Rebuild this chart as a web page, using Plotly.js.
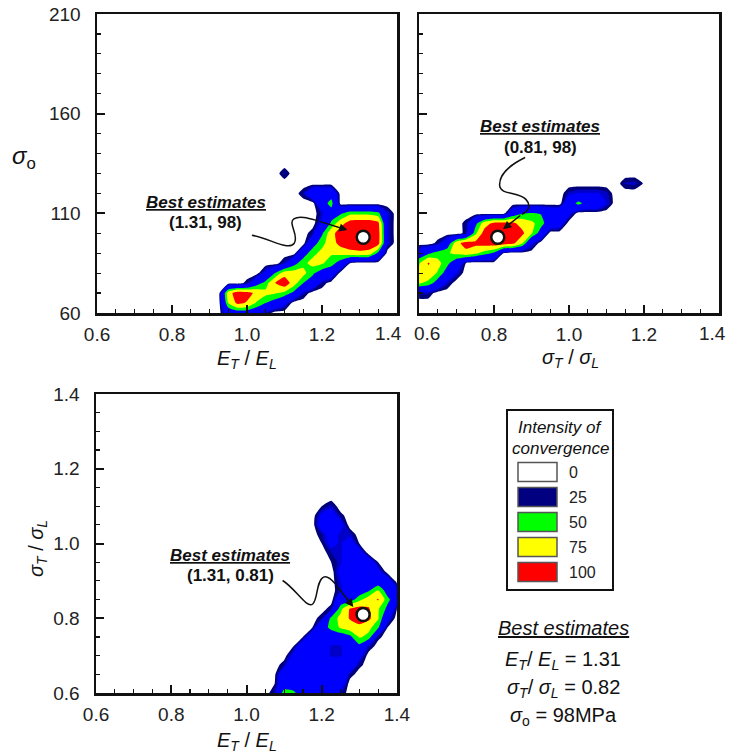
<!DOCTYPE html>
<html>
<head>
<meta charset="utf-8">
<script src="https://cdn.plot.ly/plotly-3.0.1.min.js"></script>
<style>body{margin:0;background:#fff}</style>
</head>
<body>
<div id="chart" style="width:730px;height:754px"></div>
<script>
// ---------- DATA ----------
// Panel 1: sigma_o vs E_T/E_L
const p1x = [0.925,0.95,0.975,1.0,1.025,1.05,1.075,1.1,1.125,1.15,1.175,1.2,1.225,1.25,1.275,1.3,1.325,1.35,1.375,1.4];
const p1y = [60,65,70,75,80,85,90,95,100,105,110,115,120,125,130,135];
const p1z = [
 [0,28,32,32,28,12,0,0,0,0,0,0,0,0,0,0,0,0,0,0],
 [0,60,85,78,58,45,35,20,0,0,0,0,0,0,0,0,0,0,0,0],
 [0,70,92,88,75,65,62,55,40,12,0,0,0,0,0,0,0,0,0,0],
 [0,0,0,8,35,52,80,95,68,45,35,10,0,0,0,0,0,0,0,0],
 [0,0,0,0,0,20,45,70,68,66,48,35,30,0,0,0,0,0,0,0],
 [0,0,0,0,0,0,0,12,38,55,66,62,52,35,5,0,0,0,0,0],
 [0,0,0,0,0,0,0,0,0,35,55,65,62,66,72,75,72,40,0,0],
 [0,0,0,0,0,0,0,0,0,0,35,55,70,88,95,95,95,88,14,0],
 [0,0,0,0,0,0,0,0,0,0,10,42,72,92,98,98,98,90,14,0],
 [0,0,0,0,0,0,0,0,0,0,0,20,48,72,90,92,92,85,14,0],
 [0,0,0,0,0,0,0,0,0,0,0,12,35,42,55,55,55,50,14,0],
 [0,0,0,0,0,0,0,0,0,0,0,35,52,0,0,0,0,0,0,0],
 [0,0,0,0,0,0,0,0,0,10,35,35,35,0,0,0,0,0,0,0],
 [0,0,0,0,0,0,0,0,0,0,0,0,0,0,0,0,0,0,0,0],
 [0,0,0,0,0,0,0,11,0,0,0,0,0,0,0,0,0,0,0,0],
 [0,0,0,0,0,0,0,0,0,0,0,0,0,0,0,0,0,0,0,0]
];
// Panel 2: sigma_o vs sigma_T/sigma_L
const p2x = [0.6,0.625,0.65,0.675,0.7,0.725,0.75,0.775,0.8,0.825,0.85,0.875,0.9,0.925,0.95,0.975,1.0,1.025,1.05,1.075,1.1,1.125,1.15,1.175,1.2];
const p2y = [65,70,75,80,85,90,95,100,105,110,115,120,125,130];
const p2z = [
 [0,0,0,0,0,0,0,0,0,0,0,0,0,0,0,0,0,0,0,0,0,0,0,0,0],
 [12,11,0,0,0,0,0,0,0,0,0,0,0,0,0,0,0,0,0,0,0,0,0,0,0],
 [62,55,35,12,0,0,0,0,0,0,0,0,0,0,0,0,0,0,0,0,0,0,0,0,0],
 [65,72,58,35,15,0,0,0,0,0,0,0,0,0,0,0,0,0,0,0,0,0,0,0,0],
 [58,82,66,50,30,5,0,0,0,0,0,0,0,0,0,0,0,0,0,0,0,0,0,0,0],
 [30,42,52,58,64,72,64,52,42,5,0,0,0,0,0,0,0,0,0,0,0,0,0,0,0],
 [0,0,8,30,72,90,86,90,92,90,85,62,18,0,0,0,0,0,0,0,0,0,0,0,0],
 [0,0,0,0,0,8,55,90,96,96,94,85,62,35,0,0,0,0,0,0,0,0,0,0,0],
 [0,0,0,0,0,8,38,70,85,86,84,72,64,52,32,25,0,0,0,0,0,0,0,0,0],
 [0,0,0,0,0,0,0,0,0,0,30,44,46,44,35,35,20,0,0,0,0,0,0,0,0],
 [0,0,0,0,0,0,0,0,0,0,0,0,0,0,0,0,30,52,35,35,15,0,0,0,0],
 [0,0,0,0,0,0,0,0,0,0,0,0,0,0,0,0,12,16,16,16,12,0,0,0,0],
 [0,0,0,0,0,0,0,0,0,0,0,0,0,0,0,0,0,0,0,0,0,0,11,12,4],
 [0,0,0,0,0,0,0,0,0,0,0,0,0,0,0,0,0,0,0,0,0,0,0,0,0]
];
// Panel 3: sigma_T/sigma_L vs E_T/E_L
const p3x = [1.05,1.075,1.1,1.125,1.15,1.175,1.2,1.225,1.25,1.275,1.3,1.325,1.35,1.375,1.4];
const p3y = [0.6,0.625,0.65,0.675,0.7,0.725,0.75,0.775,0.8,0.825,0.85,0.875,0.9,0.925,0.95,0.975,1.0,1.025,1.05,1.075,1.1,1.125];
const p3z = [
 [0,12,55,50,30,30,30,30,12,0,0,0,0,0,0],
 [0,5,30,30,30,30,30,30,28,0,0,0,0,0,0],
 [0,3,30,32,32,32,32,32,30,10,0,0,0,0,0],
 [0,0,10,32,32,32,32,30,32,30,8,0,0,0,0],
 [0,0,0,20,32,32,30,13,13,30,22,0,0,0,0],
 [0,0,0,5,30,32,32,13,13,30,40,12,0,0,0],
 [0,0,0,0,5,30,32,30,32,40,62,55,8,0,0],
 [0,0,0,0,0,5,35,50,62,70,72,65,48,5,0],
 [0,0,0,0,0,0,10,50,65,82,95,85,62,20,0],
 [0,0,0,0,0,0,0,10,55,82,88,82,62,40,5],
 [0,0,0,0,0,0,0,0,30,35,55,70,82,50,30],
 [0,0,0,0,0,0,0,0,12,30,32,42,60,35,20],
 [0,0,0,0,0,0,0,0,15,30,32,32,30,25,0],
 [0,0,0,0,0,0,0,0,20,30,30,30,20,0,0],
 [0,0,0,0,0,0,0,5,13,30,30,30,5,0,0],
 [0,0,0,0,0,0,0,10,13,30,25,0,0,0,0],
 [0,0,0,0,0,0,5,20,13,25,5,0,0,0,0],
 [0,0,0,0,0,0,10,22,13,12,0,0,0,0,0],
 [0,0,0,0,0,0,25,28,22,0,0,0,0,0,0],
 [0,0,0,0,0,0,18,25,8,0,0,0,0,0,0],
 [0,0,0,0,0,0,5,12,0,0,0,0,0,0,0],
 [0,0,0,0,0,0,0,0,0,0,0,0,0,0,0]
];
// Tick labels
const xTickVals = [0.6,0.8,1.0,1.2,1.4];
const xTickText = ['0.6','0.8','1.0','1.2','1.4'];
// Best estimates (marker positions / labels)
const best1 = [1.31, 98];
const best2 = [0.81, 98];
const best3 = [1.31, 0.81];
const best1Label = '(1.31, 98)';
const best2Label = '(0.81, 98)';
const best3Label = '(1.31, 0.81)';
// Legend
const legendLabels = ['0','25','50','75','100'];
const legendColors = ['#ffffff','#000080','#00ff00','#ffff00','#ff0000'];
const summaryLines = [
  '<i>E</i><sub><i>T</i></sub>/ <i>E</i><sub><i>L</i></sub> = 1.31',
  '<i>σ</i><sub><i>T</i></sub>/ <i>σ</i><sub><i>L</i></sub> = 0.82',
  '<i>σ</i><sub>o</sub> = 98MPa'
];
// Contour band colours (value thresholds)
const bandEdges = [5,10,15,45,60,80];
const bandColors = ['#ffffff','#00007a','#0000c8','#0000ff','#00ff00','#ffff00','#ff0000'];

// ---------- BUILD ----------
const W = 730, H = 754;
const FONT = 'Liberation Sans, Arial, sans-serif';
const fx = p => p / W;
const fy = p => 1 - p / H;

function colorAt(v){ let i = 0; while (i < bandEdges.length && v >= bandEdges[i]) i++; return bandColors[i]; }
const cStart = 5, cEnd = 95, cSize = 5;
const nLev = Math.round((cEnd - cStart) / cSize) + 1;
const cscale = [];
for (let k = 0; k <= nLev; k++) cscale.push([k / nLev, colorAt(cStart - cSize/2 + cSize * k)]);

function contourTrace(x, y, z, xa, ya){
  return {type:'contour', x:x, y:y, z:z, xaxis:xa, yaxis:ya, autocontour:false,
    contours:{start:cStart, end:cEnd, size:cSize, coloring:'fill', showlines:false},
    colorscale:cscale, showscale:false, line:{width:0, smoothing:0.45}, hoverinfo:'skip'};
}
function markerTrace(p, xa, ya){
  return {type:'scatter', mode:'markers', x:[p[0]], y:[p[1]], xaxis:xa, yaxis:ya,
    marker:{size:13, color:'#ffffff', line:{color:'#111', width:2.5}}, hoverinfo:'skip'};
}

const data = [
  contourTrace(p1x, p1y, p1z, 'x', 'y'),
  contourTrace(p2x, p2y, p2z, 'x2', 'y2'),
  contourTrace(p3x, p3y, p3z, 'x3', 'y3'),
  markerTrace(best1, 'x', 'y'),
  markerTrace(best2, 'x2', 'y2'),
  markerTrace(best3, 'x3', 'y3')
];

const TICKSIZE = 19;
function ax(extra){
  return Object.assign({showline:true, linecolor:'#111', linewidth:2.5, mirror:true,
    ticks:'inside', ticklen:8, tickwidth:2, tickcolor:'#111', showgrid:false, zeroline:false,
    tickfont:{family:FONT, size:TICKSIZE, color:'#222'}, fixedrange:true}, extra);
}
const minorX = {dtick:0.05, tick0:0.6, ticks:'inside', ticklen:4, tickwidth:1.2, tickcolor:'#111', showgrid:false};
const minorY1 = {dtick:10, tick0:60, ticks:'inside', ticklen:4, tickwidth:1.2, tickcolor:'#111', showgrid:false};

const annotations = [];
function txt(text, x, y, size, extra){
  annotations.push(Object.assign({text:text, x:fx(x), y:fy(y), xref:'paper', yref:'paper',
    xanchor:'center', yanchor:'middle', showarrow:false, font:{family:FONT, size:size, color:'#111'}}, extra||{}));
}
function arrow(x, y, axv, ayv, xr, yr){
  annotations.push({text:'', x:x, y:y, ax:axv, ay:ayv, xref:xr, yref:yr, axref:xr, ayref:yr,
    showarrow:true, arrowhead:2, arrowsize:1.1, arrowwidth:1.5, arrowcolor:'#111'});
}
// tick labels that sit between the two top panels
const tickFontA = {family:FONT, size:TICKSIZE, color:'#222'};
txt(xTickText[4], 388, 333, TICKSIZE, {font:tickFontA});
txt(xTickText[0], 427, 333, TICKSIZE, {font:tickFontA});
txt(xTickText[4], 712, 333, TICKSIZE, {font:tickFontA});

// axis titles
const ETEL = '<i>E</i><sub><i>T</i></sub> / <i>E</i><sub><i>L</i></sub>';
const STSL = '<i>σ</i><sub><i>T</i></sub> / <i>σ</i><sub><i>L</i></sub>';
txt(ETEL, 247, 359, 20);
txt(STSL, 570, 358, 20);
txt(ETEL, 247, 741, 20);
txt('<i>σ</i><sub>o</sub>', 24, 157, 24);
txt(STSL, 37, 549, 20, {textangle:-90});
// panel labels
txt('<b><i><u>Best estimates</u></i></b>', 206, 202, 17);
txt('<b>' + best1Label + '</b>', 205, 222, 17);
txt('<b><i><u>Best estimates</u></i></b>', 540, 126, 17);
txt('<b>' + best2Label + '</b>', 540, 147, 17);
txt('<b><i><u>Best estimates</u></i></b>', 230, 555, 17);
txt('<b>' + best3Label + '</b>', 230, 575, 17);
// arrows
arrow(1.268, 101.6, 1.19, 106.2, 'x', 'y');
arrow(0.824, 102.0, 0.874, 109.5, 'x2', 'y2');
arrow(1.284, 0.830, 1.236, 0.892, 'x3', 'y3');

// legend
txt('<i>Intensity of</i>', 560, 428, 17);
txt('<i>convergence</i>', 560, 448, 17);
const shapes = [];
shapes.push({type:'rect', xref:'paper', yref:'paper', x0:fx(507), x1:fx(613), y0:fy(590), y1:fy(410),
  line:{color:'#111', width:2}, fillcolor:'rgba(0,0,0,0)'});
legendLabels.forEach((lab, i) => {
  const yc = 472 + 25 * i;
  shapes.push({type:'rect', xref:'paper', yref:'paper', x0:fx(518), x1:fx(557), y0:fy(yc + 9.5), y1:fy(yc - 9.5),
    line:{color:'#555', width:1.5}, fillcolor:legendColors[i]});
  txt(lab, 567, yc, 16, {xanchor:'left', font:{family:FONT, size:16, color:'#222'}});
});
// summary
txt('<i><u>Best estimates</u></i>', 563, 628, 20);
summaryLines.forEach((s, i) => txt(s, 563, 660 + 28 * i, 20));

// curly leader lines
shapes.push({type:'path', xref:'x', yref:'y', line:{color:'#111', width:1.5},
  path:'M 1.013 99 C 1.06 97.5, 1.11 91, 1.126 95 C 1.14 99, 1.108 105, 1.125 107.2 C 1.14 109, 1.165 107.5, 1.19 106.2'});
shapes.push({type:'path', xref:'x2', yref:'y2', line:{color:'#111', width:1.5},
  path:'M 0.883 138 C 0.85 135, 0.813 130, 0.815 124 C 0.817 119, 0.865 121, 0.885 117 C 0.9 114, 0.892 111, 0.874 109.5'});
shapes.push({type:'path', xref:'x3', yref:'y3', line:{color:'#111', width:1.5},
  path:'M 1.096 0.901 C 1.13 0.88, 1.16 0.825, 1.176 0.838 C 1.19 0.85, 1.185 0.9, 1.205 0.91 C 1.215 0.915, 1.225 0.905, 1.236 0.892'});

const layout = {
  width:W, height:H, margin:{l:0, r:0, t:0, b:0},
  paper_bgcolor:'#ffffff', plot_bgcolor:'#ffffff', showlegend:false,
  font:{family:FONT, color:'#111'},
  xaxis: ax({domain:[fx(97), fx(397)], range:[0.5999, 1.4001], tickmode:'array', tickvals:xTickVals,
    ticktext:xTickText.map((t, i) => i === 4 ? '' : t), minor:minorX, anchor:'y', ticklabelstandoff:3}),
  yaxis: ax({domain:[fy(313), fy(14)], range:[59.99, 210.01], tickmode:'linear', tick0:60, dtick:50, minor:minorY1, anchor:'x', ticklabelstandoff:10}),
  xaxis2: ax({domain:[fx(419), fx(719)], range:[0.5999, 1.4001], tickmode:'array', tickvals:xTickVals,
    ticktext:xTickText.map((t, i) => (i === 0 || i === 4) ? '' : t), minor:minorX, anchor:'y2', ticklabelstandoff:3}),
  yaxis2: ax({domain:[fy(313), fy(14)], range:[59.99, 210.01], tickmode:'linear', tick0:60, dtick:50, minor:minorY1, anchor:'x2', showticklabels:false}),
  xaxis3: ax({domain:[fx(96), fx(397)], range:[0.5999, 1.4001], tickmode:'array', tickvals:xTickVals,
    ticktext:xTickText, minor:minorX, anchor:'y3', ticklabelstandoff:3}),
  yaxis3: ax({domain:[fy(693), fy(394)], range:[0.5999, 1.4001], tickmode:'array', tickvals:[0.6,0.8,1.0,1.2,1.4],
    ticktext:['0.6','0.8','1.0','1.2','1.4'], minor:minorX, anchor:'x3', ticklabelstandoff:10}),
  annotations: annotations,
  shapes: shapes
};

Plotly.newPlot('chart', data, layout, {displayModeBar:false, staticPlot:true});
</script>
</body>
</html>
